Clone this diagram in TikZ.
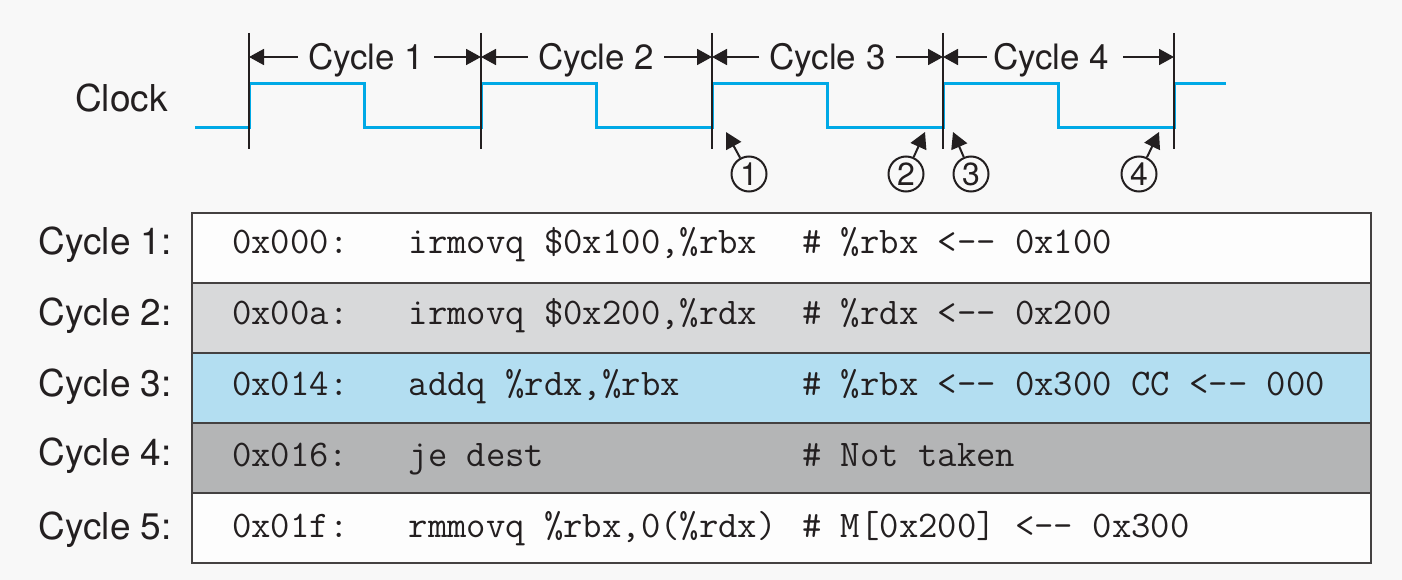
\documentclass[tikz,border=0pt]{standalone}
\usepackage{fontspec}
\setsansfont{TeX Gyre Heros}
\usetikzlibrary{arrows.meta}
\definecolor{bg}{HTML}{F8F8F8}
\definecolor{clk}{HTML}{00A9E6}
\definecolor{ink}{HTML}{231F20}
\definecolor{rowA}{HTML}{FDFDFD}
\definecolor{rowB}{HTML}{D8D9DA}
\definecolor{rowC}{HTML}{B3DEF1}
\definecolor{rowD}{HTML}{B4B5B6}
\begin{document}
\begin{tikzpicture}[x=1pt,y=-1pt,
  lbl/.style={font=\sffamily\fontsize{37}{40}\selectfont, text=ink, inner sep=0pt, anchor=base east},
  hdr/.style={font=\sffamily\fontsize{35}{38}\selectfont, text=ink, inner xsep=10pt, inner ysep=0pt,
              text height=25pt, text depth=0pt},
  code/.style={font=\ttfamily\fontsize{37.6}{40}\selectfont, text=ink, inner sep=0pt, anchor=base west},
  tick/.style={draw=ink, line width=1.6pt},
  span/.style={draw=ink, line width=1.8pt, -{Triangle[length=15pt 0 0,width=16pt 0 0]}},
  clockline/.style={draw=clk, line width=3pt},
  num/.style={circle, draw=ink, line width=2pt, minimum size=35pt, inner sep=0pt, text=ink,
              font=\sffamily\fontsize{32}{34}\selectfont},
  pointer/.style={draw=ink, line width=2pt, -{Triangle[length=16pt 0 0,width=17pt 0 0]}},
  rowbox/.style={draw=ink!85, line width=2pt}]

% background and page size
\fill[bg] (0,0) rectangle (1402,580);
\useasboundingbox (0,0) rectangle (1402,580);

% clock signal
\node[lbl] (clock) at (168,111.5) {Clock};
\draw[clockline] (195,128) -- (249,128) -- (249,84) -- (364,84) -- (364,128)
  -- (481,128) -- (481,84) -- (596,84) -- (596,128)
  -- (712,128) -- (712,84) -- (827,84) -- (827,128)
  -- (943,128) -- (943,84) -- (1058,84) -- (1058,128)
  -- (1174,128) -- (1174,84) -- (1226,84);

% cycle boundaries
\coordinate (t0) at (249,33);
\coordinate (t1) at (481,33);
\coordinate (t2) at (712,33);
\coordinate (t3) at (943,33);
\coordinate (t4) at (1174,33);
\foreach \t in {t0,t1,t2,t3,t4} \draw[tick] (\t) -- ++(0,116);

% cycle spans
\node[hdr] (c1) at (366,57) {Cycle 1};
\node[hdr] (c2) at (596,57) {Cycle 2};
\node[hdr] (c3) at (827.5,57) {Cycle 3};
\node[hdr, inner xsep=6pt] (c4) at (1051,57) {Cycle 4};
\draw[span] (c1.west) -- (c1.west -| t0);
\draw[span] (c1.east) -- (c1.east -| t1);
\draw[span] (c2.west) -- (c2.west -| t1);
\draw[span] (c2.east) -- (c2.east -| t2);
\draw[span] (c3.west) -- (c3.west -| t2);
\draw[span] (c3.east) -- (c3.east -| t3);
\draw[span] (c4.west) -- (c4.west -| t3);
\draw[span] ([xshift=8pt]c4.east) -- (c4.east -| t4);

% event markers
\node[num] (n1) at (749,174) {1};
\node[num] (n2) at (906,174) {2};
\node[num] (n3) at (971,174) {3};
\node[num] (n4) at (1139,174) {4};
\coordinate (p1) at (726,132);
\coordinate (p2) at (925,132);
\coordinate (p3) at (953,132);
\coordinate (p4) at (1159,132);
\draw[pointer] (n1) -- (p1);
\draw[pointer] (n2) -- (p2);
\draw[pointer] (n3) -- (p3);
\draw[pointer] (n4) -- (p4);

% program rows
\draw[rowbox, fill=rowA] (192,212.5) rectangle (1371,282.5);
\draw[rowbox, fill=rowB] (192,282.5) rectangle (1371,353);
\draw[rowbox, fill=rowC] (192,353) rectangle (1371,422.5);
\draw[rowbox, fill=rowD] (192,422.5) rectangle (1371,492.5);
\draw[rowbox, fill=rowA] (192,492.5) rectangle (1371,562.5);

\node[lbl] (l1) at (172,254.5) {Cycle 1:};
\node[lbl] (l2) at (172,325.5) {Cycle 2:};
\node[lbl] (l3) at (172,396) {Cycle 3:};
\node[lbl] (l4) at (172,465) {Cycle 4:};
\node[lbl] (l5) at (172,539.5) {Cycle 5:};

\node[code] (a1) at (232,253) {0x000:};
\node[code] (i1) at (408.5,253) {irmovq \$0x100,\%rbx};
\node[code] (m1) at (802,253) {\# \%rbx <-{}- 0x100};

\node[code] (a2) at (232,324) {0x00a:};
\node[code] (i2) at (408.5,324) {irmovq \$0x200,\%rdx};
\node[code] (m2) at (802,324) {\# \%rdx <-{}- 0x200};

\node[code] (a3) at (232,395) {0x014:};
\node[code] (i3) at (408.5,395) {addq \%rdx,\%rbx};
\node[code] (m3) at (802,395) {\# \%rbx <-{}- 0x300 CC <-{}- 000};

\node[code] (a4) at (232,466) {0x016:};
\node[code] (i4) at (408.5,466) {je dest};
\node[code] (m4) at (802,466) {\# Not taken};

\node[code] (a5) at (232,537) {0x01f:};
\node[code] (i5) at (408.5,537) {rmmovq \%rbx,0(\%rdx)};
\node[code] (m5) at (802,537) {\# M[0x200] <-{}- 0x300};
\end{tikzpicture}
\end{document}
